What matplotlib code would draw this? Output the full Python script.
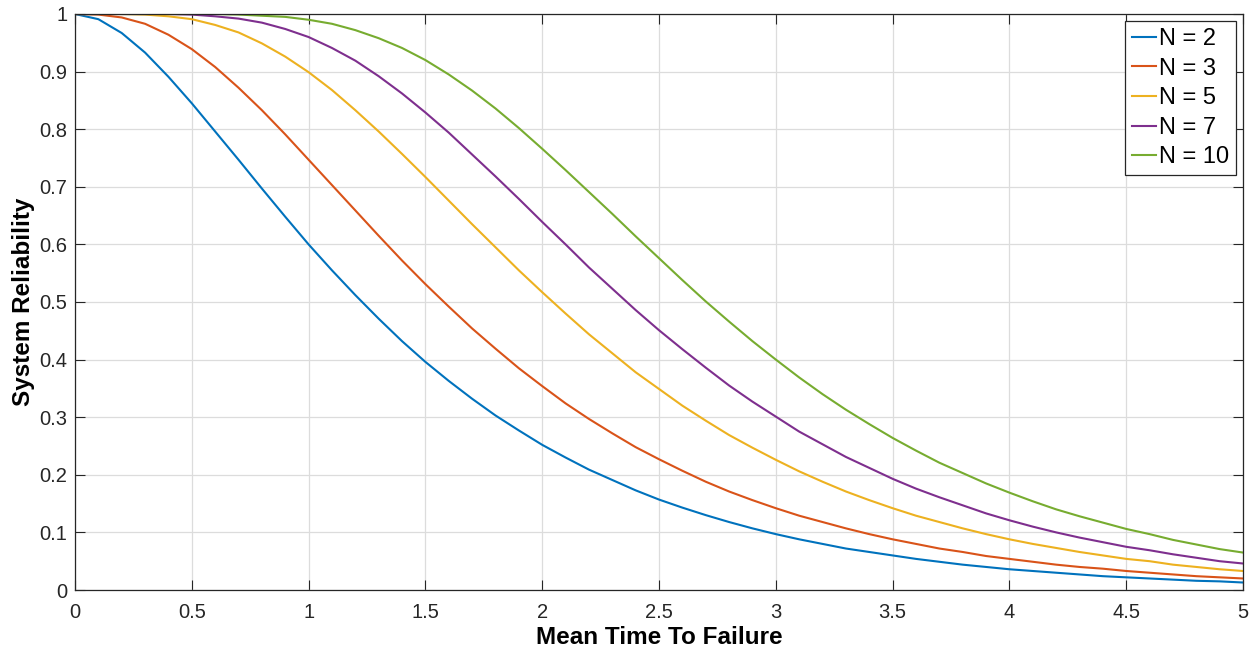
import numpy as np
import matplotlib
matplotlib.use("Agg")
import matplotlib.pyplot as plt

t = np.round(np.arange(0, 5.01, 0.1), 1)

r_n2 = [1.000, 0.991, 0.967, 0.933, 0.891, 0.845, 0.796, 0.747, 0.697, 0.648,
        0.600, 0.555, 0.512, 0.471, 0.432, 0.396, 0.363, 0.332, 0.303, 0.277,
        0.252, 0.230, 0.209, 0.191, 0.173, 0.157, 0.143, 0.130, 0.118, 0.107,
        0.097, 0.088, 0.080, 0.072, 0.066, 0.060, 0.054, 0.049, 0.044, 0.040,
        0.036, 0.033, 0.030, 0.027, 0.024, 0.022, 0.020, 0.018, 0.016, 0.015,
        0.013]
r_n3 = [1.000, 0.999, 0.994, 0.983, 0.964, 0.939, 0.908, 0.872, 0.833, 0.791,
        0.747, 0.703, 0.659, 0.615, 0.572, 0.531, 0.492, 0.454, 0.419, 0.385,
        0.354, 0.324, 0.297, 0.272, 0.248, 0.227, 0.207, 0.188, 0.171, 0.156,
        0.142, 0.129, 0.118, 0.107, 0.097, 0.088, 0.080, 0.072, 0.066, 0.059,
        0.054, 0.049, 0.044, 0.040, 0.037, 0.033, 0.030, 0.027, 0.024, 0.022,
        0.020]
r_n5 = [1.000, 1.000, 1.000, 0.999, 0.996, 0.991, 0.981, 0.968, 0.949, 0.926,
        0.899, 0.868, 0.833, 0.796, 0.757, 0.717, 0.676, 0.635, 0.595, 0.555,
        0.517, 0.480, 0.444, 0.411, 0.378, 0.349, 0.320, 0.294, 0.269, 0.247,
        0.226, 0.206, 0.188, 0.171, 0.156, 0.142, 0.129, 0.118, 0.107, 0.097,
        0.088, 0.080, 0.073, 0.066, 0.060, 0.054, 0.050, 0.044, 0.040, 0.036,
        0.033]
r_n7 = [1.000, 1.000, 1.000, 1.000, 1.000, 0.999, 0.996, 0.992, 0.985, 0.974,
        0.960, 0.941, 0.919, 0.892, 0.862, 0.829, 0.794, 0.756, 0.718, 0.679,
        0.639, 0.600, 0.560, 0.523, 0.486, 0.451, 0.418, 0.386, 0.355, 0.327,
        0.301, 0.275, 0.253, 0.231, 0.212, 0.193, 0.176, 0.161, 0.147, 0.133,
        0.121, 0.110, 0.100, 0.091, 0.083, 0.075, 0.069, 0.062, 0.056, 0.050,
        0.046]
r_n10 = [1.000, 1.000, 1.000, 1.000, 1.000, 1.000, 1.000, 0.999, 0.997, 0.995,
         0.990, 0.983, 0.972, 0.958, 0.941, 0.920, 0.895, 0.867, 0.836, 0.802,
         0.766, 0.729, 0.691, 0.653, 0.614, 0.576, 0.538, 0.501, 0.466, 0.432,
         0.400, 0.369, 0.340, 0.313, 0.288, 0.264, 0.242, 0.221, 0.203, 0.185,
         0.169, 0.154, 0.140, 0.128, 0.117, 0.106, 0.097, 0.087, 0.079, 0.071,
         0.065]

labels = ["N = 2", "N = 3", "N = 5", "N = 7", "N = 10"]
series = [r_n2, r_n3, r_n5, r_n7, r_n10]
colors = ["#0072BD", "#D95319", "#EDB120", "#7E2F8E", "#77AC30"]
xtick_labels = ["0", "0.5", "1", "1.5", "2", "2.5", "3", "3.5", "4", "4.5", "5"]
ytick_labels = ["0", "0.1", "0.2", "0.3", "0.4", "0.5", "0.6", "0.7", "0.8", "0.9", "1"]

plt.rcParams['font.family'] = ['Liberation Sans', 'DejaVu Sans']

fig = plt.figure(figsize=(12.56, 6.51), dpi=100)
ax = fig.add_axes([0.0597, 0.0937, 0.9300, 0.8848])

for y, lab, c in zip(series, labels, colors):
    ax.plot(t, y, color=c, lw=1.5, label=lab)

ax.set_xlim(0, 5)
ax.set_ylim(0, 1)
ax.set_xticks(np.arange(0, 5.01, 0.5))
ax.set_xticklabels(xtick_labels)
ax.set_yticks(np.arange(0, 1.01, 0.1))
ax.set_yticklabels(ytick_labels)

ax.grid(True, color="#dcdcdc", lw=0.9)
ax.set_axisbelow(True)
ax.tick_params(direction="in", length=7.5, width=0.8, colors="#262626",
               labelsize=14.5, top=True, right=True)
ax.tick_params(axis="x", pad=9.5)
ax.tick_params(axis="y", pad=5.5)
for s in ax.spines.values():
    s.set_color("#262626")
    s.set_linewidth(0.9)

ax.set_xlabel("Mean Time To Failure", fontsize=17.5, fontweight="bold", labelpad=3)
ax.set_ylabel("System Reliability", fontsize=17.5, fontweight="bold", labelpad=3)

leg = ax.legend(loc="upper right", fontsize=17, fancybox=False, framealpha=1,
                edgecolor="#262626", handlelength=1.05, handletextpad=0.1,
                labelspacing=0.32, borderpad=0.3, borderaxespad=0.3)
leg.get_frame().set_linewidth(0.9)

fig.savefig("out.png", dpi=100)
